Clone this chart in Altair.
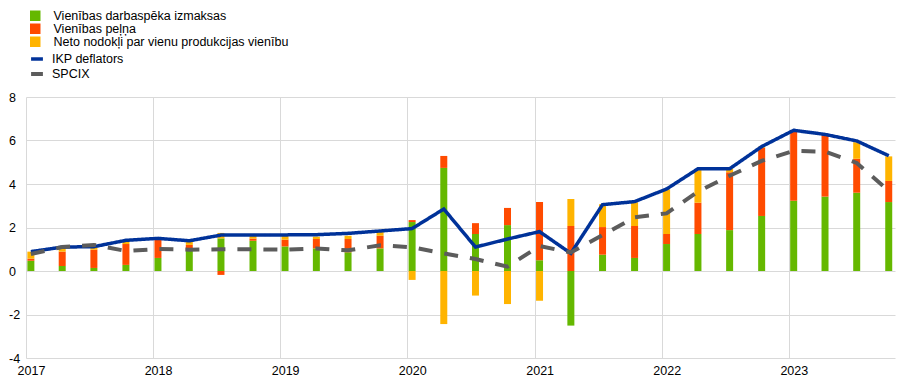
import altair as alt
import pandas as pd

quarters = [f"{y}-{m:02d}-15" for y in range(2017, 2024) for m in (1, 4, 7, 10)]

components = ["Vienības darbaspēka izmaksas", "Vienības peļņa",
              "Neto nodokļi par vienu produkcijas vienību"]
comp_colors = ["#65B800", "#FF4B00", "#FFB400"]

labour = [0.47, 0.23, 0.14, 0.28,
          0.60, 0.93, 1.50, 1.39,
          1.13, 1.04, 0.86, 1.04,
          2.25, 4.74, 1.70, 2.11,
          0.50, -2.51, 0.75, 0.60,
          1.24, 1.70, 1.88, 2.53,
          3.23, 3.42, 3.60, 3.17]
profits = [0.10, 0.66, 0.84, 0.96,
           0.87, 0.27, -0.18, 0.10,
           0.31, 0.43, 0.61, 0.58,
           0.09, 0.55, 0.50, 0.79,
           2.67, 2.07, 1.27, 1.47,
           0.46, 1.44, 2.66, 3.14,
           3.18, 2.83, 1.56, 0.97]
taxes = [0.32, 0.20, 0.14, 0.11,
         0.03, 0.15, 0.25, 0.16,
         0.20, 0.11, 0.15, 0.19,
         -0.41, -2.44, -1.13, -1.52,
         -1.37, 1.24, 1.05, 1.09,
         2.05, 1.50, 0.16, 0.05,
         0.00, 0.00, 0.76, 1.13]

series_names = ["IKP deflators", "SPCIX"]
series_colors = ["#003299", "#5C5C5C"]
ikp = [0.89, 1.10, 1.12, 1.41,
       1.50, 1.39, 1.65, 1.66,
       1.66, 1.67, 1.73, 1.84,
       1.95, 2.85, 1.10, 1.47,
       1.81, 0.81, 3.05, 3.19,
       3.77, 4.70, 4.70, 5.72,
       6.47, 6.28, 5.98, 5.30]
spcix = [0.78, 1.10, 1.20, 0.92,
         1.01, 0.98, 1.00, 1.00,
         0.98, 1.04, 0.95, 1.18,
         1.09, 0.81, 0.55, 0.20,
         1.15, 0.85, 1.65, 2.47,
         2.65, 3.65, 4.38, 5.06,
         5.52, 5.49, 4.97, 3.68]

year_ticks = list(range(2017, 2024))
y_ticks = [-4, -2, 0, 2, 4, 6, 8]

rows = []
for i, q in enumerate(quarters):
    for k, (name, vals) in enumerate(zip(components, [labour, profits, taxes])):
        rows.append({"date": q, "component": name, "value": vals[i], "ord": k})
bar_df = pd.DataFrame(rows)

lrows = []
for i, q in enumerate(quarters):
    for name, vals in zip(series_names, [ikp, spcix]):
        lrows.append({"date": q, "series": name, "value": vals[i]})
line_df = pd.DataFrame(lrows)

FONT = "Liberation Sans"

x_scale = alt.Scale(type="utc", padding=0,
                    domain=[alt.DateTime(year=2017, month=1, date=1, utc=True),
                            alt.DateTime(year=2023, month=11, date=2, utc=True)])
x_enc = alt.X(
    "date:T",
    title=None,
    scale=x_scale,
    axis=alt.Axis(values=[alt.DateTime(year=y, month=1, date=1, utc=True) for y in year_ticks],
                  format="%Y", labelOffset=5, labelPadding=6, labelAngle=0,
                  labelFlush=False),
)
y_scale = alt.Scale(domain=[-4, 8], nice=False, zero=False)

bars = alt.Chart(bar_df).mark_bar(size=7).encode(
    x=x_enc,
    y=alt.Y("value:Q", stack="zero", title=None, scale=y_scale,
            axis=alt.Axis(values=y_ticks, labelPadding=17.5, labelAlign="left",
                          labelExpr="datum.value + ''")),
    color=alt.Color("component:N",
                    scale=alt.Scale(domain=components, range=comp_colors),
                    legend=alt.Legend(orient="none", legendX=3, legendY=-87.5, title=None,
                                      symbolType="square", symbolSize=110,
                                      symbolStrokeWidth=0, labelOffset=12,
                                      labelLimit=0, rowPadding=-0.2, padding=0)),
    order=alt.Order("ord:Q"),
)

lines = alt.Chart(line_df).mark_line().encode(
    x=alt.X("date:T", scale=x_scale),
    y=alt.Y("value:Q", scale=y_scale),
    stroke=alt.Stroke("series:N",
                      scale=alt.Scale(domain=series_names, range=series_colors),
                      legend=alt.Legend(orient="none", legendX=3, legendY=-46, title=None,
                                        symbolType="stroke", symbolSize=140,
                                        symbolStrokeWidth=3.5, labelOffset=7,
                                        labelLimit=0, rowPadding=-4, padding=0)),
    strokeDash=alt.StrokeDash("series:N",
                              scale=alt.Scale(domain=series_names, range=[[1, 0], [14, 12]]),
                              legend=None),
    strokeWidth=alt.StrokeWidth("series:N",
                                scale=alt.Scale(domain=series_names, range=[3.5, 4]),
                                legend=None),
)

chart = alt.layer(bars, lines).properties(
    width=869,
    height=261,
    autosize=alt.AutoSizeParams(type="none"),
    padding={"left": 18, "top": 89, "right": 2, "bottom": 19},
).configure_view(stroke=None).configure_axis(
    grid=True, gridColor="#D9D9D9", gridWidth=1,
    domain=False, ticks=False,
    labelFont=FONT, labelFontSize=12.5, labelColor="#000000",
).configure_legend(
    labelFont=FONT, labelFontSize=12.5, labelColor="#000000",
)

chart.save("out.html", embed_options={"renderer": "svg", "actions": False})
